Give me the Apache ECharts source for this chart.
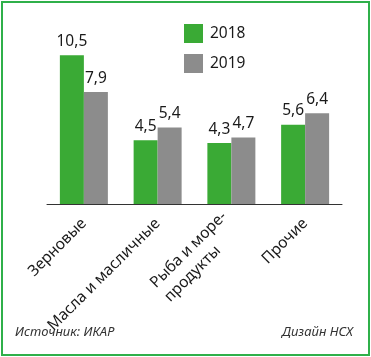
<!DOCTYPE html>
<html><head><meta charset="utf-8">
<script src="https://cdn.jsdelivr.net/npm/echarts@6/dist/echarts.min.js"></script>
<style>html,body{margin:0;padding:0;background:#fff}#c{width:371px;height:357px}</style>
</head><body><div id="c"></div>
<script>
const categories = ['Зерновые', 'Масла и масличные', 'Рыба и море-\nпродукты', 'Прочие'];
const seriesNames = ['2018', '2019'];
const values2018 = [10.5, 4.5, 4.3, 5.6];
const values2019 = [7.9, 5.4, 4.7, 6.4];
const sourceText = 'Источник: ИКАР';
const designText = 'Дизайн НСХ';

const FONT = 'Noto Sans';
const chart = echarts.init(document.getElementById('c'), null, {renderer: 'canvas'});
const lbl = {
  show: true, position: 'top', distance: 6,
  fontFamily: FONT, fontSize: 15.5, color: '#1a1a1a',
  formatter: p => String(p.value).replace('.', ',')
};
chart.setOption({
  animation: false,
  backgroundColor: '#fff',
  grid: {left: 47, right: 29, top: 34, bottom: 153},
  legend: {
    orient: 'vertical', left: 184, top: 24, padding: 0,
    itemWidth: 19, itemHeight: 19, itemGap: 11,
    icon: 'rect',
    textStyle: {fontFamily: FONT, fontSize: 15.5, color: '#1a1a1a', padding: [0, 0, 0, 2]},
    data: seriesNames
  },
  xAxis: {
    type: 'category', data: categories,
    axisLine: {lineStyle: {color: '#333', width: 1}},
    axisTick: {length: 8, lineStyle: {color: '#333'}, interval: (i) => i > 0},
    axisLabel: {
      rotate: 45, interval: 0, fontFamily: FONT, fontSize: 15.5, color: '#1a1a1a', margin: 17, lineHeight: 20,
      formatter: v => v.indexOf('\n') < 0 ? v : v.split('\n').map((s, i) => '{m' + i + '|' + s + '}').join('\n'),
      rich: {
        m0: {fontFamily: FONT, fontSize: 15.5, color: '#1a1a1a', lineHeight: 20, width: 101, align: 'left'},
        m1: {fontFamily: FONT, fontSize: 15.5, color: '#1a1a1a', lineHeight: 20, width: 97, align: 'left'}
      }
    }
  },
  yAxis: {type: 'value', min: 0, max: 12, show: false, splitLine: {show: false}},
  series: [
    {name: seriesNames[0], type: 'bar', data: values2018, barWidth: 24, barGap: '0%', itemStyle: {color: '#3aaa35'}, label: lbl},
    {name: seriesNames[1], type: 'bar', data: values2019, barWidth: 24, itemStyle: {color: '#8c8c8c'}, label: lbl}
  ],
  graphic: [
    {type: 'rect', shape: {x: 2, y: 2, width: 367, height: 353}, style: {fill: 'none', stroke: '#2fb04a', lineWidth: 2}, silent: true},
    {type: 'text', left: 15, top: 326, style: {text: sourceText, fontFamily: FONT, fontStyle: 'italic', fontSize: 13, fill: '#333'}},
    {type: 'text', right: 18, top: 326, style: {text: designText, fontFamily: FONT, fontStyle: 'italic', fontSize: 13, fill: '#333'}}
  ]
});
</script></body></html>
